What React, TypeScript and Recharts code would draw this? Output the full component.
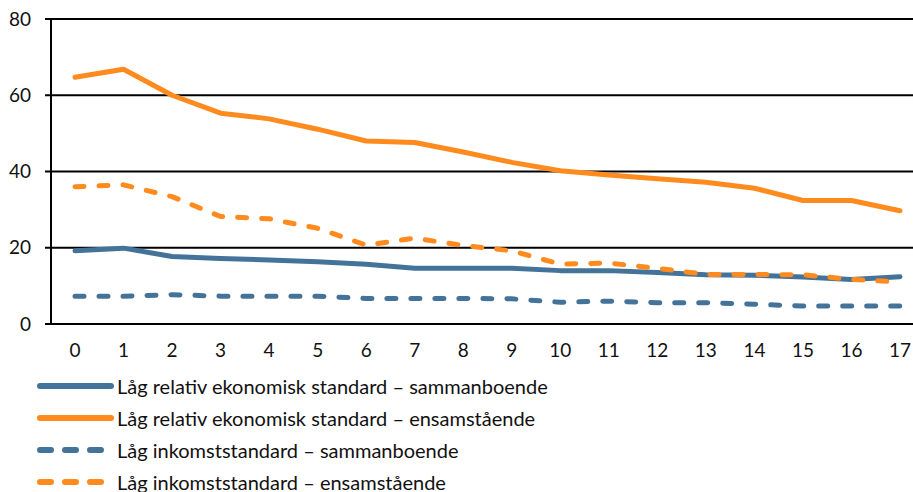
import React from 'react';
import { LineChart, Line, XAxis, YAxis, CartesianGrid, Legend } from 'recharts';

const years = ['0','1','2','3','4','5','6','7','8','9','10','11','12','13','14','15','16','17'];
const relSammanboende = [19.2, 19.9, 17.7, 17.2, 16.8, 16.3, 15.7, 14.6, 14.6, 14.6, 14.0, 14.0, 13.5, 12.9, 12.8, 12.3, 11.7, 12.4];
const relEnsamstaende = [64.7, 66.8, 60.0, 55.3, 53.8, 51.1, 48.0, 47.6, 45.1, 42.4, 40.2, 39.1, 38.1, 37.2, 35.6, 32.4, 32.4, 29.7];
const inkSammanboende = [7.3, 7.3, 7.7, 7.3, 7.3, 7.3, 6.7, 6.7, 6.7, 6.6, 5.7, 6.0, 5.6, 5.6, 5.2, 4.7, 4.7, 4.7];
const inkEnsamstaende = [36.0, 36.5, 33.4, 28.2, 27.6, 25.1, 20.7, 22.5, 20.6, 19.2, 15.7, 16.0, 14.6, 13.0, 13.0, 12.9, 11.7, 11.0];
const yTicks = [0, 20, 40, 60, 80];

const BLUE = '#44739A';
const ORANGE = '#FF8B1E';
const FONT = 'Lato, "Open Sans", sans-serif';

const series = [
  { key: 'relSam', name: 'Låg relativ ekonomisk standard – sammanboende', color: BLUE, dashed: false },
  { key: 'relEns', name: 'Låg relativ ekonomisk standard – ensamstående', color: ORANGE, dashed: false },
  { key: 'inkSam', name: 'Låg inkomststandard – sammanboende', color: BLUE, dashed: true },
  { key: 'inkEns', name: 'Låg inkomststandard – ensamstående', color: ORANGE, dashed: true },
];

const data = years.map((y, i) => ({
  year: y,
  relSam: relSammanboende[i],
  relEns: relEnsamstaende[i],
  inkSam: inkSammanboende[i],
  inkEns: inkEnsamstaende[i],
}));

const LegendContent = () => (
  <div style={{ fontFamily: FONT, fontSize: 20, color: '#111' }}>
    {series.map((s) => (
      <div key={s.key} style={{ height: 32, display: 'flex', alignItems: 'center' }}>
        <svg width={80} height={12} style={{ display: 'block' }}>
          <line
            x1={3}
            y1={6}
            x2={s.dashed ? 68 : 74}
            y2={6}
            stroke={s.color}
            strokeWidth={6}
            strokeLinecap="round"
            strokeDasharray={s.dashed ? '11 14' : undefined}
          />
        </svg>
        <span style={{ marginLeft: 0 }}>{s.name}</span>
      </div>
    ))}
  </div>
);

export default function App() {
  return (
    <div style={{ position: 'absolute', left: 0, top: 0, width: 913, height: 492, background: '#fff' }}>
      <LineChart width={913} height={492} data={data} margin={{ top: 19, right: 0, bottom: 128, left: 0 }}>
        <CartesianGrid vertical={false} stroke="#000" strokeWidth={2} />
        <XAxis
          dataKey="year"
          padding={{ left: 24, right: 13 }}
          tickLine={false}
          axisLine={{ stroke: '#000', strokeWidth: 2 }}
          tickSize={0}
          tickMargin={20}
          height={40}
          interval={0}
          tick={{ fill: '#111', fontSize: 19, fontFamily: FONT }}
        />
        <YAxis
          domain={[0, 80]}
          ticks={yTicks}
          width={51}
          tickSize={6}
          tickMargin={14}
          axisLine={{ stroke: '#000', strokeWidth: 2 }}
          tickLine={{ stroke: '#000', strokeWidth: 2 }}
          tick={{ fill: '#111', fontSize: 19, fontFamily: FONT }}
        />
        <Legend
          layout="vertical"
          align="center"
          verticalAlign="middle"
          content={<LegendContent />}
          wrapperStyle={{ position: 'absolute', top: 370, left: 37, width: 700 }}
        />
        {series.map((s) => (
          <Line
            key={s.key}
            dataKey={s.key}
            name={s.name}
            stroke={s.color}
            strokeWidth={5}
            strokeDasharray={s.dashed ? '9 15' : undefined}
            strokeLinecap="round"
            strokeLinejoin="round"
            dot={false}
            activeDot={false}
            isAnimationActive={false}
          />
        ))}
      </LineChart>
    </div>
  );
}
